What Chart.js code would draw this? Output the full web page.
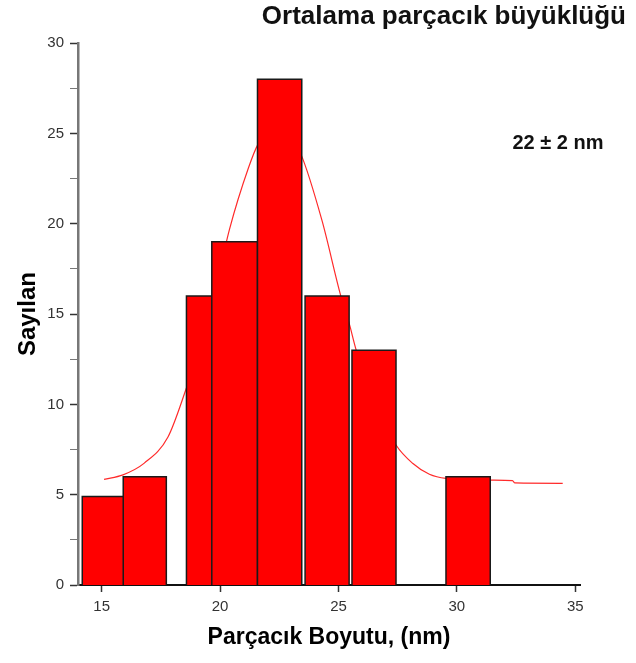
<!DOCTYPE html>
<html>
<head>
<meta charset="utf-8">
<script src="https://cdn.jsdelivr.net/npm/chart.js@4.4.0/dist/chart.umd.min.js"></script>
<style>
  html, body { margin: 0; padding: 0; background: #fff; }
</style>
</head>
<body>
<canvas id="histChart" width="636" height="663"></canvas>
<script>
// histogram bins (nm) and counts
const binLeft  = [14.18, 15.91, 18.58, 19.65, 21.58, 23.59, 25.57, 29.54];
const binRight = [16.05, 17.73, 20.45, 21.58, 23.45, 25.45, 27.43, 31.41];
const counts   = [4.9, 6, 16, 19, 28, 16, 13, 6];

// fitted curve
const fitX = [15.1, 15.9, 16.8, 17.8, 18.55, 19.5, 20.4, 21.2, 21.6, 22.5, 23.4, 24.3, 25.1, 25.45, 25.75, 26.5, 27.43, 28.13, 28.84, 29.54, 30.5, 31.5, 32.35, 32.45, 34.47];
const fitY = [5.85, 6.1, 6.75, 8.2, 10.8, 14.6, 19.7, 23.1, 24.4, 25.7, 23.9, 20.2, 16.0, 14.5, 13.0, 10.2, 7.75, 6.74, 6.13, 5.9, 5.85, 5.81, 5.78, 5.65, 5.63];

const xTicks = [15, 20, 25, 30, 35];
const yTicks = [0, 2.5, 5, 7.5, 10, 12.5, 15, 17.5, 20, 22.5, 25, 27.5, 30];

const titleText = 'Ortalama parçacık büyüklüğü';
const xTitle = 'Parçacık Boyutu, (nm)';
const yTitle = 'Sayılan';
const noteText = '22 ± 2 nm';
const notePos = { x: 34.27, y: 24.47 };

const fontFamily = '"Liberation Sans", Arial, sans-serif';

// each bar is a closed outline filled down to zero
const barSets = counts.map(function(c, i) {
    return {
        data: [
            { x: binLeft[i], y: 0 },
            { x: binLeft[i], y: c },
            { x: binRight[i], y: c },
            { x: binRight[i], y: 0 }
        ],
        backgroundColor: '#ff0000',
        borderColor: '#1a1a1a',
        borderWidth: 1.5,
        borderJoinStyle: 'miter',
        pointRadius: 0,
        fill: 'origin',
        tension: 0,
        order: counts.length - i
    };
});

const fitSet = {
    data: fitX.map(function(x, i) { return { x: x, y: fitY[i] }; }),
    borderColor: '#ff2a2a',
    borderWidth: 1.2,
    pointRadius: 0,
    fill: false,
    cubicInterpolationMode: 'monotone',
    order: 100
};

const notePlugin = {
    id: 'note',
    afterDraw: function(chart) {
        const ctx = chart.ctx;
        const x = chart.scales.x, y = chart.scales.y;
        ctx.save();
        ctx.font = 'bold 20px ' + fontFamily;
        ctx.fillStyle = '#111';
        ctx.textAlign = 'center';
        ctx.textBaseline = 'middle';
        ctx.fillText(noteText, x.getPixelForValue(notePos.x), y.getPixelForValue(notePos.y));
        ctx.restore();
    }
};

new Chart(document.getElementById('histChart').getContext('2d'), {
    type: 'line',
    data: { datasets: [fitSet].concat(barSets) },
    plugins: [notePlugin],
    options: {
        responsive: false,
        animation: false,
        devicePixelRatio: 1,
        layout: { padding: { left: 0, right: 10, top: 0, bottom: 0 } },
        plugins: {
            legend: { display: false },
            tooltip: { enabled: false },
            title: {
                display: true,
                text: titleText,
                align: 'end',
                color: '#111',
                font: { family: fontFamily, size: 26, weight: 'bold' },
                padding: { top: 1, bottom: 11 }
            }
        },
        scales: {
            x: {
                type: 'linear',
                min: 14,
                max: 35.2,
                afterBuildTicks: function(s) { s.ticks = xTicks.map(function(v) { return { value: v }; }); },
                afterFit: function(s) { s.height = 78; },
                grid: { drawOnChartArea: false, drawTicks: true, tickLength: 7, tickWidth: 1.5, tickColor: '#333' },
                border: { display: true, color: '#111', width: 2 },
                ticks: { color: '#333', padding: 6, maxRotation: 0, font: { family: fontFamily, size: 15 } },
                title: {
                    display: true,
                    text: xTitle,
                    color: '#000',
                    font: { family: fontFamily, size: 23, weight: 'bold' },
                    padding: { top: 0, bottom: 12 }
                }
            },
            y: {
                type: 'linear',
                min: 0,
                max: 30,
                afterBuildTicks: function(s) { s.ticks = yTicks.map(function(v) { return { value: v }; }); },
                afterFit: function(s) { s.width = 78; },
                grid: {
                    drawOnChartArea: false,
                    tickLength: 8,
                    tickWidth: function(c) { return c.tick && c.tick.value % 5 === 0 ? 1.5 : 1; },
                    tickColor: function(c) { return c.tick && c.tick.value % 5 === 0 ? '#333' : '#777'; }
                },
                border: { display: true, color: '#777', width: 2.5 },
                ticks: {
                    color: '#333',
                    padding: 6,
                    font: { family: fontFamily, size: 15 },
                    callback: function(v) { return v % 5 === 0 ? v : ''; }
                },
                title: {
                    display: true,
                    text: yTitle,
                    color: '#000',
                    font: { family: fontFamily, size: 24, weight: 'bold' },
                    padding: { top: 14, bottom: 0 }
                }
            },
            yRight: {
                position: 'right',
                display: true,
                grid: { display: false },
                border: { display: false },
                ticks: { display: false },
                afterFit: function(s) { s.width = 46; }
            }
        }
    }
});
</script>
</body>
</html>
